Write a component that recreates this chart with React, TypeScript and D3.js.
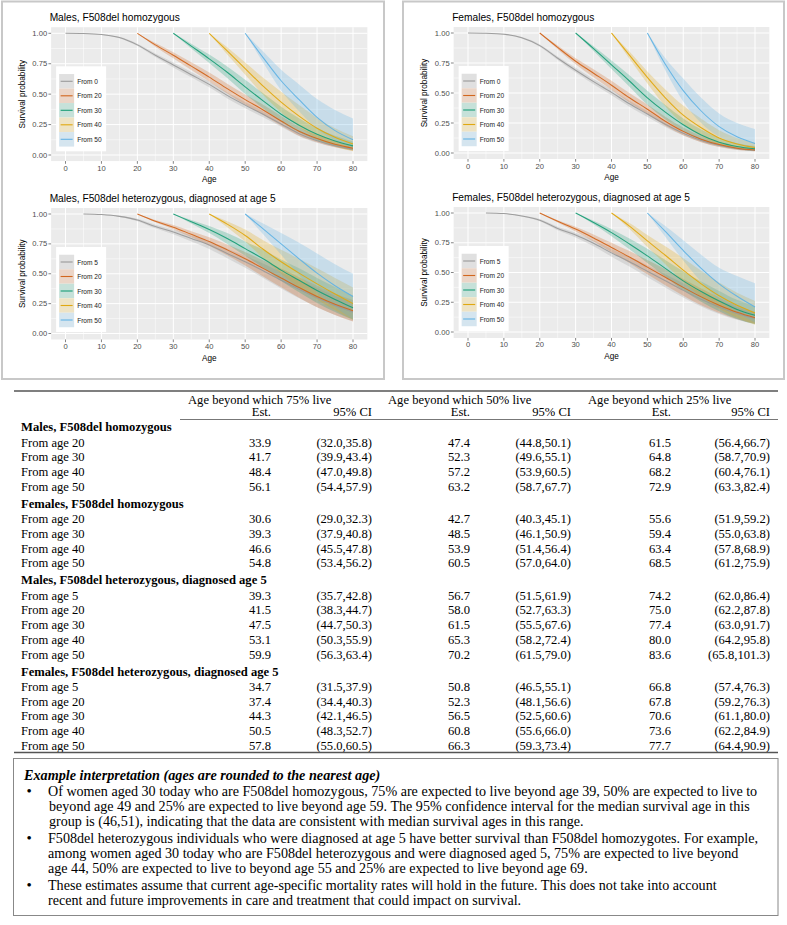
import React from "react";
import * as d3 from "d3";

// ---------------- chart data ----------------
const ageGrid = [0, 5, 10, 15, 20, 25, 30, 35, 40, 45, 50, 55, 60, 65, 70, 75, 80];
const xTicks = [0, 10, 20, 30, 40, 50, 60, 70, 80];
const yTicks = [0, 0.25, 0.5, 0.75, 1];
const yTickLabels = ["0.00", "0.25", "0.50", "0.75", "1.00"];
const seriesColors = ["#9A9A9A", "#D2661E", "#1B9E77", "#E0A810", "#62B3E4"];
const labelsHom = ["From 0", "From 20", "From 30", "From 40", "From 50"];
const labelsHet = ["From 5", "From 20", "From 30", "From 40", "From 50"];
const startsHom = [0, 20, 30, 40, 50];
const startsHet = [5, 20, 30, 40, 50];
const panelTitles = [
  "Males, F508del homozygous",
  "Females, F508del homozygous",
  "Males, F508del heterozygous, diagnosed at age 5",
  "Females, F508del heterozygous, diagnosed at age 5",
];

// Males, F508del homozygous
const mHomEst = [
  [1.0, 0.998, 0.99, 0.965, 0.905, 0.82, 0.74, 0.66, 0.58, 0.49, 0.41, 0.335, 0.255, 0.175, 0.118, 0.077, 0.048],
  [1.0, 0.905, 0.82, 0.73, 0.64, 0.545, 0.455, 0.37, 0.28, 0.195, 0.135, 0.088, 0.055],
  [1.0, 0.895, 0.79, 0.68, 0.56, 0.445, 0.335, 0.245, 0.17, 0.115, 0.075],
  [1.0, 0.855, 0.71, 0.565, 0.435, 0.32, 0.22, 0.145, 0.09],
  [1.0, 0.8, 0.61, 0.455, 0.31, 0.2, 0.125],
];
const mHomLo = [
  [1.0, 0.997, 0.987, 0.959, 0.895, 0.805, 0.72, 0.638, 0.556, 0.465, 0.385, 0.31, 0.232, 0.155, 0.101, 0.063, 0.036],
  [1.0, 0.89, 0.795, 0.698, 0.603, 0.505, 0.413, 0.328, 0.24, 0.159, 0.105, 0.063, 0.035],
  [1.0, 0.875, 0.755, 0.632, 0.502, 0.383, 0.273, 0.187, 0.12, 0.072, 0.039],
  [1.0, 0.825, 0.66, 0.495, 0.35, 0.23, 0.135, 0.07, 0.03],
  [1.0, 0.76, 0.53, 0.36, 0.215, 0.12, 0.06],
];
const mHomHi = [
  [1.0, 0.999, 0.993, 0.971, 0.915, 0.835, 0.76, 0.682, 0.604, 0.515, 0.435, 0.36, 0.278, 0.195, 0.135, 0.091, 0.06],
  [1.0, 0.92, 0.845, 0.762, 0.677, 0.585, 0.497, 0.412, 0.32, 0.231, 0.165, 0.113, 0.075],
  [1.0, 0.915, 0.825, 0.728, 0.618, 0.507, 0.397, 0.303, 0.22, 0.158, 0.111],
  [1.0, 0.885, 0.76, 0.635, 0.52, 0.41, 0.305, 0.22, 0.155],
  [1.0, 0.85, 0.7, 0.58, 0.46, 0.37, 0.3],
];

// Females, F508del homozygous
const fHomEst = [
  [1.0, 0.998, 0.99, 0.96, 0.895, 0.79, 0.69, 0.595, 0.505, 0.41, 0.325, 0.24, 0.165, 0.105, 0.065, 0.038, 0.022],
  [1.0, 0.88, 0.765, 0.665, 0.565, 0.46, 0.365, 0.265, 0.18, 0.115, 0.07, 0.04, 0.025],
  [1.0, 0.87, 0.735, 0.6, 0.46, 0.34, 0.235, 0.15, 0.09, 0.055, 0.035],
  [1.0, 0.815, 0.63, 0.46, 0.315, 0.21, 0.125, 0.075, 0.045],
  [1.0, 0.74, 0.52, 0.35, 0.22, 0.135, 0.08],
];
const fHomLo = [
  [1.0, 0.997, 0.987, 0.954, 0.885, 0.775, 0.67, 0.573, 0.481, 0.385, 0.3, 0.217, 0.145, 0.089, 0.052, 0.028, 0.014],
  [1.0, 0.865, 0.74, 0.632, 0.528, 0.42, 0.325, 0.228, 0.148, 0.09, 0.05, 0.026, 0.014],
  [1.0, 0.85, 0.7, 0.553, 0.402, 0.28, 0.182, 0.108, 0.06, 0.032, 0.018],
  [1.0, 0.785, 0.58, 0.39, 0.24, 0.14, 0.07, 0.035, 0.018],
  [1.0, 0.69, 0.43, 0.25, 0.135, 0.07, 0.03],
];
const fHomHi = [
  [1.0, 0.999, 0.993, 0.966, 0.905, 0.805, 0.71, 0.617, 0.529, 0.435, 0.35, 0.263, 0.185, 0.121, 0.078, 0.048, 0.03],
  [1.0, 0.895, 0.79, 0.698, 0.602, 0.5, 0.405, 0.302, 0.212, 0.14, 0.09, 0.056, 0.038],
  [1.0, 0.89, 0.77, 0.647, 0.518, 0.4, 0.288, 0.195, 0.125, 0.082, 0.058],
  [1.0, 0.845, 0.68, 0.53, 0.395, 0.285, 0.19, 0.125, 0.085],
  [1.0, 0.79, 0.62, 0.46, 0.33, 0.25, 0.2],
];

// Males, F508del heterozygous, diagnosed at age 5
const mHetEst = [
  [1.0, 0.995, 0.98, 0.95, 0.895, 0.85, 0.795, 0.74, 0.67, 0.6, 0.525, 0.445, 0.37, 0.3, 0.235, 0.18],
  [1.0, 0.94, 0.89, 0.83, 0.77, 0.7, 0.625, 0.545, 0.465, 0.385, 0.31, 0.245, 0.19],
  [1.0, 0.935, 0.87, 0.795, 0.71, 0.625, 0.53, 0.445, 0.36, 0.285, 0.215],
  [1.0, 0.915, 0.82, 0.705, 0.6, 0.505, 0.415, 0.33, 0.25],
  [1.0, 0.875, 0.75, 0.625, 0.505, 0.4, 0.31],
];
const mHetLo = [
  [1.0, 0.993, 0.975, 0.94, 0.88, 0.83, 0.77, 0.708, 0.63, 0.55, 0.465, 0.377, 0.295, 0.22, 0.155, 0.102],
  [1.0, 0.93, 0.872, 0.805, 0.735, 0.655, 0.568, 0.477, 0.387, 0.3, 0.22, 0.155, 0.1],
  [1.0, 0.92, 0.84, 0.75, 0.65, 0.55, 0.44, 0.345, 0.255, 0.18, 0.115],
  [1.0, 0.89, 0.77, 0.63, 0.5, 0.385, 0.285, 0.195, 0.115],
  [1.0, 0.83, 0.66, 0.49, 0.34, 0.22, 0.12],
];
const mHetHi = [
  [1.0, 0.997, 0.985, 0.96, 0.91, 0.87, 0.82, 0.772, 0.71, 0.65, 0.585, 0.513, 0.445, 0.38, 0.315, 0.258],
  [1.0, 0.95, 0.908, 0.855, 0.805, 0.745, 0.682, 0.613, 0.543, 0.47, 0.4, 0.335, 0.28],
  [1.0, 0.95, 0.9, 0.84, 0.77, 0.7, 0.62, 0.545, 0.465, 0.39, 0.315],
  [1.0, 0.94, 0.87, 0.78, 0.7, 0.625, 0.545, 0.465, 0.385],
  [1.0, 0.92, 0.84, 0.76, 0.67, 0.58, 0.5],
];

// Females, F508del heterozygous, diagnosed at age 5
const fHetEst = [
  [1.0, 0.995, 0.975, 0.94, 0.87, 0.815, 0.745, 0.665, 0.59, 0.51, 0.43, 0.35, 0.275, 0.21, 0.155, 0.115],
  [1.0, 0.93, 0.865, 0.79, 0.71, 0.63, 0.545, 0.46, 0.375, 0.295, 0.225, 0.165, 0.12],
  [1.0, 0.92, 0.835, 0.74, 0.64, 0.535, 0.43, 0.34, 0.26, 0.19, 0.14],
  [1.0, 0.89, 0.765, 0.645, 0.52, 0.405, 0.305, 0.225, 0.16],
  [1.0, 0.845, 0.685, 0.535, 0.405, 0.3, 0.21],
];
const fHetLo = [
  [1.0, 0.993, 0.97, 0.93, 0.855, 0.795, 0.72, 0.633, 0.55, 0.46, 0.375, 0.29, 0.215, 0.152, 0.103, 0.07],
  [1.0, 0.92, 0.845, 0.76, 0.67, 0.58, 0.485, 0.393, 0.305, 0.225, 0.16, 0.107, 0.07],
  [1.0, 0.905, 0.805, 0.695, 0.58, 0.465, 0.35, 0.255, 0.175, 0.11, 0.065],
  [1.0, 0.865, 0.715, 0.57, 0.42, 0.295, 0.195, 0.12, 0.06],
  [1.0, 0.8, 0.6, 0.42, 0.27, 0.16, 0.08],
];
const fHetHi = [
  [1.0, 0.997, 0.98, 0.95, 0.885, 0.835, 0.77, 0.697, 0.63, 0.56, 0.485, 0.41, 0.335, 0.268, 0.207, 0.16],
  [1.0, 0.94, 0.885, 0.82, 0.75, 0.68, 0.605, 0.527, 0.445, 0.365, 0.29, 0.223, 0.17],
  [1.0, 0.935, 0.865, 0.785, 0.7, 0.605, 0.51, 0.425, 0.345, 0.27, 0.215],
  [1.0, 0.915, 0.815, 0.72, 0.62, 0.515, 0.415, 0.33, 0.26],
  [1.0, 0.89, 0.77, 0.65, 0.54, 0.47, 0.41],
];

// ---------------- table data ----------------
const colHeaders = ["Age beyond which 75% live", "Age beyond which 50% live", "Age beyond which 25% live"];
const groupTitles = [
  "Males, F508del homozygous",
  "Females, F508del homozygous",
  "Males, F508del heterozygous, diagnosed age 5",
  "Females, F508del heterozygous, diagnosed age 5",
];
const rowLabels = [
  ["From age 20", "From age 30", "From age 40", "From age 50"],
  ["From age 20", "From age 30", "From age 40", "From age 50"],
  ["From age 5", "From age 20", "From age 30", "From age 40", "From age 50"],
  ["From age 5", "From age 20", "From age 30", "From age 40", "From age 50"],
];
const est75 = [[33.9, 41.7, 48.4, 56.1], [30.6, 39.3, 46.6, 54.8], [39.3, 41.5, 47.5, 53.1, 59.9], [34.7, 37.4, 44.3, 50.5, 57.8]];
const ci75 = [
  [[32.0, 35.8], [39.9, 43.4], [47.0, 49.8], [54.4, 57.9]],
  [[29.0, 32.3], [37.9, 40.8], [45.5, 47.8], [53.4, 56.2]],
  [[35.7, 42.8], [38.3, 44.7], [44.7, 50.3], [50.3, 55.9], [56.3, 63.4]],
  [[31.5, 37.9], [34.4, 40.3], [42.1, 46.5], [48.3, 52.7], [55.0, 60.5]],
];
const est50 = [[47.4, 52.3, 57.2, 63.2], [42.7, 48.5, 53.9, 60.5], [56.7, 58.0, 61.5, 65.3, 70.2], [50.8, 52.3, 56.5, 60.8, 66.3]];
const ci50 = [
  [[44.8, 50.1], [49.6, 55.1], [53.9, 60.5], [58.7, 67.7]],
  [[40.3, 45.1], [46.1, 50.9], [51.4, 56.4], [57.0, 64.0]],
  [[51.5, 61.9], [52.7, 63.3], [55.5, 67.6], [58.2, 72.4], [61.5, 79.0]],
  [[46.5, 55.1], [48.1, 56.6], [52.5, 60.6], [55.6, 66.0], [59.3, 73.4]],
];
const est25 = [[61.5, 64.8, 68.2, 72.9], [55.6, 59.4, 63.4, 68.5], [74.2, 75.0, 77.4, 80.0, 83.6], [66.8, 67.8, 70.6, 73.6, 77.7]];
const ci25 = [
  [[56.4, 66.7], [58.7, 70.9], [60.4, 76.1], [63.3, 82.4]],
  [[51.9, 59.2], [55.0, 63.8], [57.8, 68.9], [61.2, 75.9]],
  [[62.0, 86.4], [62.2, 87.8], [63.0, 91.7], [64.2, 95.8], [65.8, 101.3]],
  [[57.4, 76.3], [59.2, 76.3], [61.1, 80.0], [62.2, 84.9], [64.4, 90.9]],
];

const noteTitle = "Example interpretation (ages are rounded to the nearest age)";
const noteBullets = [
  [
    "Of women aged 30 today who are F508del homozygous, 75% are expected to live beyond age 39, 50% are expected to live to",
    "beyond age 49 and 25% are expected to live beyond age 59. The 95% confidence interval for the median survival age in this",
    "group is (46,51), indicating that the data are consistent with median survival ages in this range.",
  ],
  [
    "F508del heterozygous individuals who were diagnosed at age 5 have better survival than F508del homozygotes. For example,",
    "among women aged 30 today who are F508del heterozygous and were diagnosed aged 5, 75% are expected to live beyond",
    "age 44, 50% are expected to live to beyond age 55 and 25% are expected to live beyond age 69.",
  ],
  [
    "These estimates assume that current age-specific mortality rates will hold in the future. This does not take into account",
    "recent and future improvements in care and treatment that could impact on survival.",
  ],
];

// ---------------- layout ----------------
const SANS = "'Liberation Sans', Arial, Helvetica, sans-serif";
const SERIF = "'Liberation Serif', 'Times New Roman', serif";

type PanelCfg = {
  title: string;
  labels: string[];
  starts: number[];
  est: number[][];
  lo: number[][];
  hi: number[][];
  xa0: number;
  xa80: number;
  y0: number;
  y1: number;
};

const panels: PanelCfg[] = [
  { title: panelTitles[0], labels: labelsHom, starts: startsHom, est: mHomEst, lo: mHomLo, hi: mHomHi, xa0: 65.5, xa80: 353, y0: 155, y1: 33.3 },
  { title: panelTitles[1], labels: labelsHom, starts: startsHom, est: fHomEst, lo: fHomLo, hi: fHomHi, xa0: 468, xa80: 755, y0: 153, y1: 33 },
  { title: panelTitles[2], labels: labelsHet, starts: startsHet, est: mHetEst, lo: mHetLo, hi: mHetHi, xa0: 65.5, xa80: 353, y0: 333.5, y1: 214 },
  { title: panelTitles[3], labels: labelsHet, starts: startsHet, est: fHetEst, lo: fHetLo, hi: fHetHi, xa0: 468, xa80: 755, y0: 332, y1: 213 },
];

function Panel({ cfg }: { cfg: PanelCfg }) {
  const x = d3.scaleLinear().domain([0, 80]).range([cfg.xa0, cfg.xa80]);
  const y = d3.scaleLinear().domain([0, 1]).range([cfg.y0, cfg.y1]);
  const left = x(-4), right = x(84), top = y(1.05), bottom = y(-0.05);
  const line = d3
    .line<[number, number]>()
    .x((d) => x(d[0]))
    .y((d) => y(d[1]))
    .curve(d3.curveMonotoneX);
  const area = d3
    .area<[number, number, number]>()
    .x((d) => x(d[0]))
    .y0((d) => y(d[1]))
    .y1((d) => y(d[2]))
    .curve(d3.curveMonotoneX);
  const series = cfg.est.map((e, i) => {
    const ages = ageGrid.slice(ageGrid.indexOf(cfg.starts[i]));
    return {
      color: seriesColors[i],
      pts: ages.map((a, k) => [a, e[k]] as [number, number]),
      band: ages.map((a, k) => [a, cfg.lo[i][k], cfg.hi[i][k]] as [number, number, number]),
    };
  });
  const xMinor = d3.range(5, 80, 10);
  const yMinor = [0.125, 0.375, 0.625, 0.875];
  const legX = left + 5;
  const legTop = cfg.y1 + 33;
  const clipId = "clip" + Math.round(cfg.xa0) + "_" + Math.round(cfg.y0);
  return (
    <g>
      <text x={left - 1.5} y={cfg.y1 - 16} fontFamily={SANS} fontSize={10.2} fill="#000" dominantBaseline="central">
        {cfg.title}
      </text>
      <rect x={left} y={top} width={right - left} height={bottom - top} fill="#EBEBEB" />
      {xMinor.map((v) => (
        <line key={"xm" + v} x1={x(v)} x2={x(v)} y1={top} y2={bottom} stroke="#fff" strokeWidth={0.5} />
      ))}
      {yMinor.map((v) => (
        <line key={"ym" + v} x1={left} x2={right} y1={y(v)} y2={y(v)} stroke="#fff" strokeWidth={0.5} />
      ))}
      {xTicks.map((v) => (
        <line key={"xg" + v} x1={x(v)} x2={x(v)} y1={top} y2={bottom} stroke="#fff" strokeWidth={1} />
      ))}
      {yTicks.map((v) => (
        <line key={"yg" + v} x1={left} x2={right} y1={y(v)} y2={y(v)} stroke="#fff" strokeWidth={1} />
      ))}
      <defs>
        <clipPath id={clipId}>
          <rect x={left} y={top} width={right - left} height={bottom - top} />
        </clipPath>
      </defs>
      <g clipPath={`url(#${clipId})`}>
        {series.map((s, i) => (
          <path key={"b" + i} d={area(s.band) || ""} fill={s.color} fillOpacity={0.26} stroke="none" />
        ))}
        {series.map((s, i) => (
          <path key={"l" + i} d={line(s.pts) || ""} fill="none" stroke={s.color} strokeWidth={1.05} strokeOpacity={0.95} />
        ))}
      </g>
      {yTicks.map((v, i) => (
        <g key={"yt" + v}>
          <line x1={left - 2.7} x2={left} y1={y(v)} y2={y(v)} stroke="#333" strokeWidth={0.6} />
          <text x={left - 4} y={y(v)} textAnchor="end" dominantBaseline="central" fontFamily={SANS} fontSize={7.6} fill="#4D4D4D">
            {yTickLabels[i]}
          </text>
        </g>
      ))}
      {xTicks.map((v) => (
        <g key={"xt" + v}>
          <line x1={x(v)} x2={x(v)} y1={bottom} y2={bottom + 2.7} stroke="#333" strokeWidth={0.6} />
          <text x={x(v)} y={bottom + 7} textAnchor="middle" dominantBaseline="central" fontFamily={SANS} fontSize={7.6} fill="#4D4D4D">
            {v}
          </text>
        </g>
      ))}
      <text x={(left + right) / 2} y={cfg.y0 + 24.5} textAnchor="middle" dominantBaseline="central" fontFamily={SANS} fontSize={8.2} fill="#000">
        Age
      </text>
      <text
        transform={`translate(${left - 29},${(top + bottom) / 2}) rotate(-90)`}
        textAnchor="middle"
        dominantBaseline="central"
        fontFamily={SANS}
        fontSize={8.2}
        fill="#000"
      >
        Survival probability
      </text>
      <rect x={legX} y={legTop} width={50} height={85} fill="#fff" />
      {cfg.labels.map((lab, i) => {
        const cy = legTop + 15 + i * 14.5;
        return (
          <g key={"lg" + i}>
            <rect x={legX + 3} y={cy - 7.25} width={15} height={14.5} fill="#F2F2F2" />
            <rect x={legX + 3} y={cy - 7.25} width={15} height={14.5} fill={seriesColors[i]} fillOpacity={0.2} />
            <line x1={legX + 4.5} x2={legX + 16.5} y1={cy} y2={cy} stroke={seriesColors[i]} strokeWidth={1.1} />
            <text x={legX + 21} y={cy} dominantBaseline="central" fontFamily={SANS} fontSize={6.6} fill="#1A1A1A">
              {lab}
            </text>
          </g>
        );
      })}
    </g>
  );
}

function Table() {
  const estRight = [271, 470, 671];
  const ciRight = [372, 571, 770];
  const headX = [188, 388, 588];
  const fs = 12.6;
  const fmt = (v: number) => v.toFixed(1);
  const rows: React.ReactNode[] = [];
  let yc = 427;
  groupTitles.forEach((g, gi) => {
    rows.push(
      <text key={"g" + gi} x={21} y={yc} dominantBaseline="central" fontFamily={SERIF} fontSize={fs} fontWeight="bold">
        {g}
      </text>
    );
    let ry = yc + 15.5;
    rowLabels[gi].forEach((lab, ri) => {
      const vals = [
        [est75[gi][ri], ci75[gi][ri]],
        [est50[gi][ri], ci50[gi][ri]],
        [est25[gi][ri], ci25[gi][ri]],
      ] as [number, number[]][];
      rows.push(
        <g key={"r" + gi + "_" + ri}>
          <text x={21} y={ry} dominantBaseline="central" fontFamily={SERIF} fontSize={fs}>
            {lab}
          </text>
          {vals.map((v, k) => (
            <g key={k}>
              <text x={estRight[k]} y={ry} textAnchor="end" dominantBaseline="central" fontFamily={SERIF} fontSize={fs}>
                {fmt(v[0])}
              </text>
              <text x={ciRight[k]} y={ry} textAnchor="end" dominantBaseline="central" fontFamily={SERIF} fontSize={fs}>
                {`(${fmt(v[1][0])},${fmt(v[1][1])})`}
              </text>
            </g>
          ))}
        </g>
      );
      if (ri < rowLabels[gi].length - 1) ry += 14.7;
    });
    yc = ry + 17;
  });
  return (
    <g>
      <line x1={14} x2={778} y1={391} y2={391} stroke="#555" strokeWidth={1.6} />
      {colHeaders.map((h, k) => (
        <g key={"h" + k}>
          <text x={headX[k]} y={399.5} dominantBaseline="central" fontFamily={SERIF} fontSize={fs}>
            {h}
          </text>
          <text x={estRight[k]} y={412} textAnchor="end" dominantBaseline="central" fontFamily={SERIF} fontSize={fs}>
            Est.
          </text>
          <text x={ciRight[k]} y={412} textAnchor="end" dominantBaseline="central" fontFamily={SERIF} fontSize={fs}>
            95% CI
          </text>
        </g>
      ))}
      <line x1={180} x2={778} y1={419.5} y2={419.5} stroke="#777" strokeWidth={1} />
      {rows}
      <line x1={14} x2={778} y1={752.5} y2={752.5} stroke="#555" strokeWidth={1.6} />
    </g>
  );
}

function Note() {
  const lines: React.ReactNode[] = [];
  let y = 791;
  noteBullets.forEach((b, bi) => {
    lines.push(
      <text key={"dot" + bi} x={26.5} y={y} dominantBaseline="central" fontFamily={SERIF} fontSize={15}>
        •
      </text>
    );
    b.forEach((t, ti) => {
      lines.push(
        <text key={bi + "_" + ti} x={ti === 0 || bi !== 0 ? 48 : 49} y={y} dominantBaseline="central" fontFamily={SERIF} fontSize={14.1}>
          {t}
        </text>
      );
      if (ti < b.length - 1) y += 15;
    });
    y += 17;
  });
  return (
    <g>
      <rect x={13.5} y={758.5} width={764.5} height={157} fill="none" stroke="#888" strokeWidth={1} />
      <text x={24} y={775} dominantBaseline="central" fontFamily={SERIF} fontSize={14.2} fontWeight="bold" fontStyle="italic">
        {noteTitle}
      </text>
      {lines}
    </g>
  );
}

export default function App() {
  return (
    <svg width={787} height={925} style={{ position: "absolute", left: 0, top: 0, display: "block" }}>
      <rect x={0} y={0} width={787} height={925} fill="#fff" />
      <rect x={2} y={1.5} width={382} height={377.5} fill="#fff" stroke="#C8C8C8" strokeWidth={2} />
      <rect x={403} y={1.5} width={381} height={377.5} fill="#fff" stroke="#C8C8C8" strokeWidth={2} />
      {panels.map((p, i) => (
        <Panel key={i} cfg={p} />
      ))}
      <Table />
      <Note />
    </svg>
  );
}
